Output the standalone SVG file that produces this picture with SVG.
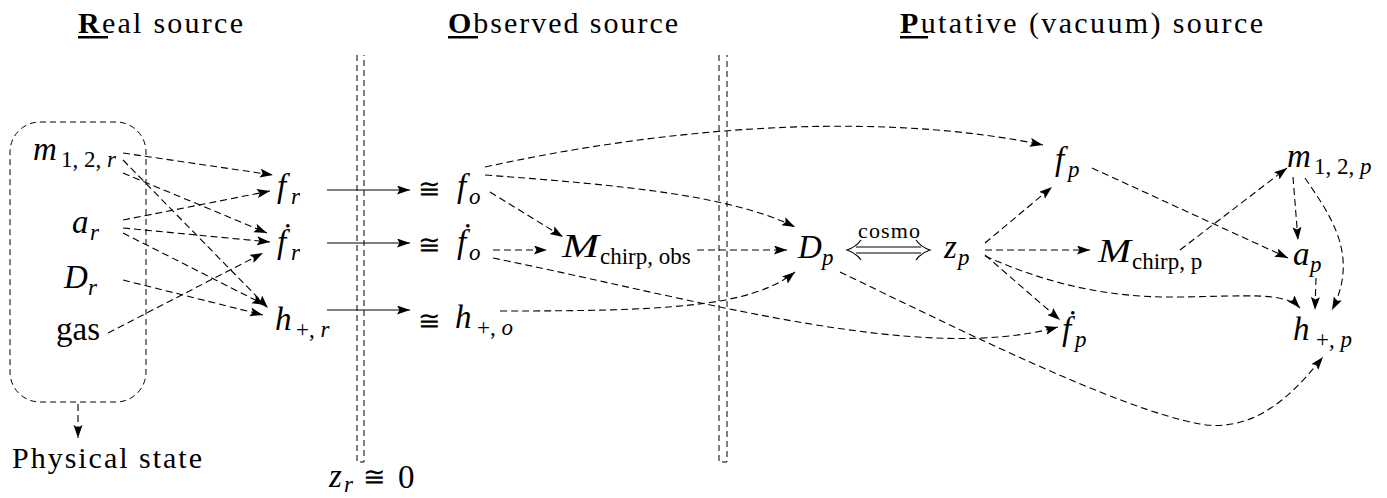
<svg xmlns="http://www.w3.org/2000/svg" width="1387" height="498" viewBox="0 0 1387 498">
<style>
.t{font-family:"Liberation Serif","DejaVu Serif",serif;fill:#000}
.i{font-style:italic}
.m{font-size:33px}
.s{font-size:23px}
.ttl{font-size:30px}
.b{font-weight:bold}
.eq{font-family:"DejaVu Serif","Liberation Serif",serif;font-size:27px;fill:#000}
.d{fill:none;stroke:#000;stroke-width:1.1;stroke-dasharray:7 4}
.sl{fill:none;stroke:#000;stroke-width:1.2}
.frame{fill:none;stroke:#000;stroke-width:1;stroke-dasharray:6 4}
</style>
<defs>
<marker id="ah" markerUnits="userSpaceOnUse" markerWidth="14" markerHeight="10" refX="13" refY="4.5" orient="auto">
<path d="M0,0 L13,4.5 L0,9 L2.5,4.5 z" fill="#000"/>
</marker>
</defs>

<g id="titles">
<text class="t ttl" x="78" y="33" textLength="165" lengthAdjust="spacing"><tspan class="b">R</tspan>eal source</text>
<rect x="78" y="36" width="30" height="2.5" fill="#000"/>
<text class="t ttl" x="448" y="33" textLength="230" lengthAdjust="spacing"><tspan class="b">O</tspan>bserved source</text>
<rect x="448" y="36" width="30" height="2.5" fill="#000"/>
<text class="t ttl" x="900" y="33" textLength="363" lengthAdjust="spacing"><tspan class="b">P</tspan>utative (vacuum) source</text>
<rect x="900" y="36" width="28" height="2.5" fill="#000"/>
</g>

<g id="separators">
<path class="frame" d="M357,55 V462 H364 V55"/>
<path class="frame" d="M719,55 V462 H727 V55"/>
<text class="t m i" x="329" y="487">z</text><text class="t s i" x="344" y="492">r</text>
<text class="eq" x="363" y="486">≅</text>
<text class="t m" x="398" y="488">0</text>
</g>

<g id="real-box">
<rect class="frame" x="10" y="122" width="136" height="280" rx="30" ry="30"/>
<text class="t ttl" x="12" y="468" textLength="190" lengthAdjust="spacing">Physical state</text>
</g>

<g id="m12r"><text class="t m i" x="33" y="160">m</text><text class="t s" x="61" y="167">1, 2, <tspan class="i">r</tspan></text></g>
<g id="ar"><text class="t m i" x="72" y="233">a</text><text class="t s i" x="90" y="240">r</text></g>
<g id="Dr"><text class="t m i" x="64" y="288">D</text><text class="t s i" x="88" y="295">r</text></g>
<g id="gas"><text class="t m" x="56" y="340">gas</text></g>

<g id="fr"><text class="t m i" x="277" y="197">f</text><text class="t s i" x="291" y="204">r</text></g>
<g id="fdr"><text class="t m i" x="277" y="253">ḟ</text><text class="t s i" x="291" y="260">r</text></g>
<g id="hr"><text class="t m i" x="275" y="330">h</text><text class="t s" x="296" y="337">+, <tspan class="i">r</tspan></text></g>

<g id="fo"><text class="eq" x="418" y="198">≅</text><text class="t m i" x="457" y="197">f</text><text class="t s i" x="469" y="204">o</text></g>
<g id="fdo"><text class="eq" x="418" y="254">≅</text><text class="t m i" x="457" y="253">ḟ</text><text class="t s i" x="469" y="260">o</text></g>
<g id="ho"><text class="eq" x="418" y="330">≅</text><text class="t m i" x="455" y="328">h</text><text class="t s" x="477" y="335">+, <tspan class="i">o</tspan></text></g>

<g id="Mobs"><text class="t m i" x="562" y="257" textLength="37" lengthAdjust="spacingAndGlyphs">M</text><text class="t s" x="600" y="264">chirp, obs</text></g>
<g id="Dp"><text class="t m i" x="798" y="258">D</text><text class="t s i" x="822" y="265">p</text></g>
<g id="zp"><text class="t m i" x="944" y="258">z</text><text class="t s i" x="958" y="265">p</text></g>
<g id="Mp"><text class="t m i" x="1098" y="262" textLength="33" lengthAdjust="spacingAndGlyphs">M</text><text class="t s" x="1132" y="269">chirp, p</text></g>

<g id="fp"><text class="t m i" x="1055" y="170">f</text><text class="t s i" x="1068" y="177">p</text></g>
<g id="m12p"><text class="t m i" x="1287" y="167">m</text><text class="t s" x="1314" y="174">1, 2, <tspan class="i">p</tspan></text></g>
<g id="ap"><text class="t m i" x="1293" y="265">a</text><text class="t s i" x="1310" y="272">p</text></g>
<g id="fdp"><text class="t m i" x="1062" y="340">ḟ</text><text class="t s i" x="1075" y="347">p</text></g>
<g id="hp"><text class="t m i" x="1293" y="340">h</text><text class="t s" x="1316" y="347">+, <tspan class="i">p</tspan></text></g>

<g id="connectors">
<path class="d" marker-end="url(#ah)" d="M78,404 L78,438"/>
<path class="d" marker-end="url(#ah)" d="M123,153 L273,175"/>
<path class="d" marker-end="url(#ah)" d="M123,173 L267,233"/>
<path class="d" marker-end="url(#ah)" d="M123,160 L268,308"/>
<path class="d" marker-end="url(#ah)" d="M123,220 L270,191"/>
<path class="d" marker-end="url(#ah)" d="M123,228 L270,242"/>
<path class="d" marker-end="url(#ah)" d="M123,233 L265,305"/>
<path class="d" marker-end="url(#ah)" d="M123,280 L263,315"/>
<path class="d" marker-end="url(#ah)" d="M108,333 L263,253"/>

<path class="sl" marker-end="url(#ah)" d="M327,190 L410,190"/>
<path class="sl" marker-end="url(#ah)" d="M327,243 L410,243"/>
<path class="sl" marker-end="url(#ah)" d="M327,310 L410,310"/>

<path class="d" marker-end="url(#ah)" d="M485,167 C700,120 900,115 1043,145"/>
<path class="d" marker-end="url(#ah)" d="M485,175 C620,185 730,195 795,227"/>
<path class="d" marker-end="url(#ah)" d="M490,192 L563,237"/>
<path class="d" marker-end="url(#ah)" d="M493,250 L547,250"/>
<path class="d" marker-end="url(#ah)" d="M697,250 L787,250"/>
<path class="d" marker-end="url(#ah)" d="M493,258 C700,300 920,365 1058,327"/>
<path class="d" marker-end="url(#ah)" d="M500,311 C660,311 750,308 795,272"/>
<path class="d" marker-end="url(#ah)" d="M840,272 C950,325 1120,410 1200,424 C1260,434.5 1300,385 1323,357"/>

<g id="cosmo">
<path class="sl" d="M856,247 H921 M856,253 H921"/>
<path class="sl" d="M861,240 Q856,247 847,250 Q856,253 861,260"/>
<path class="sl" d="M916,240 Q921,247 930,250 Q921,253 916,260"/>
<text class="t" x="858" y="238" font-size="22" textLength="62" lengthAdjust="spacing">cosmo</text>
</g>

<path class="d" marker-end="url(#ah)" d="M985,243 L1052,187"/>
<path class="d" marker-end="url(#ah)" d="M985,250 L1090,250"/>
<path class="d" marker-end="url(#ah)" d="M985,255 L1060,320"/>
<path class="d" marker-end="url(#ah)" d="M985,256 C1050,285 1110,298 1180,297 S1285,292 1300,308"/>
<path class="d" marker-end="url(#ah)" d="M1092,168 L1288,258"/>
<path class="d" marker-end="url(#ah)" d="M1180,250 L1287,168"/>
<path class="d" marker-end="url(#ah)" d="M1293,177 L1298,240"/>
<path class="d" marker-end="url(#ah)" d="M1305,178 C1330,215 1360,255 1332,310"/>
<path class="d" marker-end="url(#ah)" d="M1316,278 L1315,310"/>
</g>
</svg>
